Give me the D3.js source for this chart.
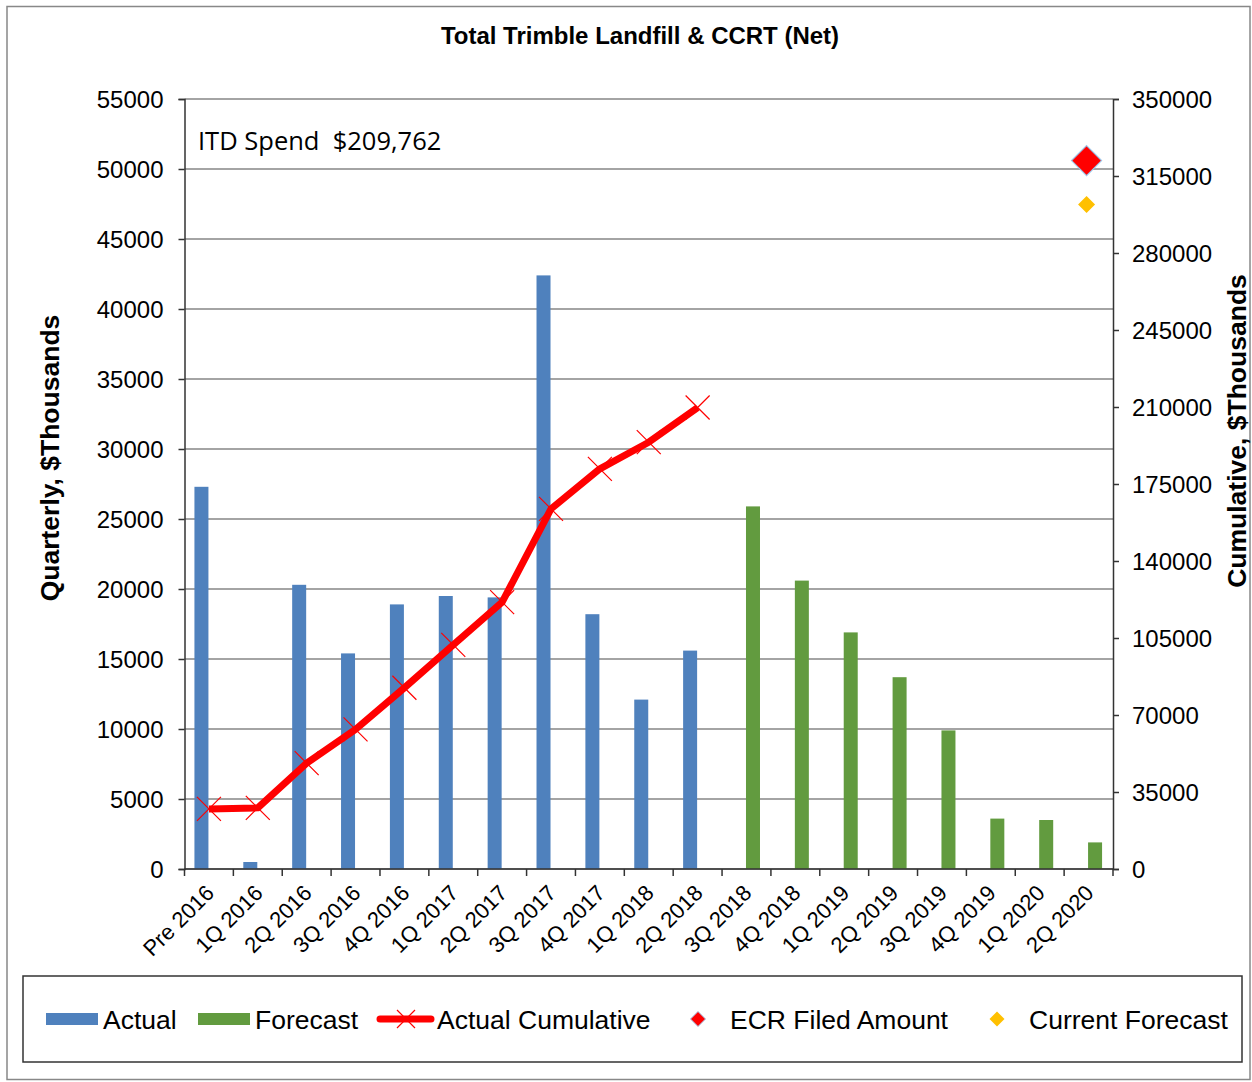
<!DOCTYPE html>
<html>
<head>
<meta charset="utf-8">
<script src="https://cdn.jsdelivr.net/npm/d3@7"></script>
<style>
  body { margin: 0; background: #fff; }
  text { font-family: "Liberation Sans", Arial, sans-serif; fill: #000; }
</style>
</head>
<body>
<div class="chart_wrapper"></div>
<script>
var categories = ['Pre 2016', '1Q 2016', '2Q 2016', '3Q 2016', '4Q 2016', '1Q 2017', '2Q 2017', '3Q 2017', '4Q 2017',
  '1Q 2018', '2Q 2018', '3Q 2018', '4Q 2018', '1Q 2019', '2Q 2019', '3Q 2019', '4Q 2019', '1Q 2020', '2Q 2020'];
var actual = [27300, 500, 20300, 15400, 18900, 19500, 19400, 42400, 18200, 12100, 15600,
  null, null, null, null, null, null, null, null];
var forecast = [null, null, null, null, null, null, null, null, null, null, null,
  25900, 20600, 16900, 13700, 9900, 3600, 3500, 1900];
var actualCumulative = [27300, 27800, 48100, 63500, 82400, 101900, 121300, 163700, 181900, 194000, 209762];
var ecrFiled = { category: '2Q 2020', value: 322000 };
var currentForecast = { category: '2Q 2020', value: 302000 };
var leftTicks = d3.range(0, 55001, 5000);
var rightTicks = d3.range(0, 350001, 35000);
var itdSpend = 'ITD Spend  $209,762';

var width = 1252;
var height = 1082;
var plot = { left: 184.5, right: 1113, top: 99, bottom: 869 };

var blue = '#4f81bd';
var green = '#629b3f';
var red = '#ff0000';
var gold = '#ffc000';

var svg = d3.select('.chart_wrapper').append('svg').attr('width', width).attr('height', height);

// outer border
svg.append('rect').attr('x', 7).attr('y', 6.5).attr('width', 1243).attr('height', 1073)
  .attr('fill', 'none').attr('stroke', '#888').attr('stroke-width', 1.5);

svg.append('text').attr('x', 640).attr('y', 44).attr('text-anchor', 'middle')
  .style('font-weight', 'bold').style('font-size', '24px').text('Total Trimble Landfill & CCRT (Net)');

var x = d3.scaleBand().domain(categories).range([plot.left, plot.right]);
var inner = d3.scaleBand().domain(['actual', 'forecast']).range([-14.5, 13.5]);
var yL = d3.scaleLinear().domain([0, 55000]).range([plot.bottom, plot.top]);
var yR = d3.scaleLinear().domain([0, 350000]).range([plot.bottom, plot.top]);
var cx = function (c) { return x(c) + x.bandwidth() / 2; };

// gridlines
svg.append('g').selectAll('line').data(leftTicks).enter().append('line')
  .attr('x1', plot.left).attr('x2', plot.right)
  .attr('y1', function (d) { return yL(d); }).attr('y2', function (d) { return yL(d); })
  .attr('stroke', '#868686').attr('stroke-width', 1.5);

// bars
var bars = svg.append('g');
bars.selectAll('.actual').data(categories.map(function (c, i) { return { c: c, v: actual[i] }; })
  .filter(function (d) { return d.v != null; }))
  .enter().append('rect').attr('class', 'actual')
  .attr('x', function (d) { return cx(d.c) + inner('actual'); })
  .attr('width', inner.bandwidth())
  .attr('y', function (d) { return yL(d.v); })
  .attr('height', function (d) { return yL(0) - yL(d.v); })
  .attr('fill', blue);
bars.selectAll('.forecast').data(categories.map(function (c, i) { return { c: c, v: forecast[i] }; })
  .filter(function (d) { return d.v != null; }))
  .enter().append('rect').attr('class', 'forecast')
  .attr('x', function (d) { return cx(d.c) + inner('forecast'); })
  .attr('width', inner.bandwidth())
  .attr('y', function (d) { return yL(d.v); })
  .attr('height', function (d) { return yL(0) - yL(d.v); })
  .attr('fill', green);

// axes
var leftAxis = svg.append('g').attr('transform', 'translate(' + plot.left + ',0)')
  .call(d3.axisLeft(yL).tickValues(leftTicks).tickSize(6).tickFormat(d3.format('d')));
var rightAxis = svg.append('g').attr('transform', 'translate(' + plot.right + ',0)')
  .call(d3.axisRight(yR).tickValues(rightTicks).tickSize(6).tickFormat(d3.format('d')));
[leftAxis, rightAxis].forEach(function (a) {
  a.select('.domain').attr('stroke', '#333').attr('stroke-width', 1.5);
  a.selectAll('.tick line').attr('stroke', '#333').attr('stroke-width', 1.5);
  a.selectAll('.tick text').style('font-size', '24px').attr('font-family', null);
});
leftAxis.selectAll('.tick text').attr('x', -21).attr('dy', '0.35em');
rightAxis.selectAll('.tick text').attr('x', 19).attr('dy', '0.35em');

var xAxis = svg.append('g').attr('transform', 'translate(0,' + plot.bottom + ')');
xAxis.append('line').attr('x1', plot.left).attr('x2', plot.right).attr('stroke', '#333').attr('stroke-width', 1.5);
xAxis.selectAll('.xt').data(categories.concat(['end'])).enter().append('line')
  .attr('x1', function (d, i) { return plot.left + i * x.bandwidth(); })
  .attr('x2', function (d, i) { return plot.left + i * x.bandwidth(); })
  .attr('y1', 0).attr('y2', 7).attr('stroke', '#333').attr('stroke-width', 1.5);
xAxis.selectAll('text').data(categories).enter().append('text')
  .attr('transform', function (d) { return 'translate(' + (cx(d) + 1) + ',20) rotate(-45)'; })
  .attr('text-anchor', 'end').attr('dy', '0.35em')
  .style('font-size', '22px').text(function (d) { return d; });

// axis titles
svg.append('text').attr('transform', 'translate(59,458) rotate(-90)').attr('text-anchor', 'middle')
  .style('font-weight', 'bold').style('font-size', '26.5px').text('Quarterly, $Thousands');
svg.append('text').attr('transform', 'translate(1246,431) rotate(-90)').attr('text-anchor', 'middle')
  .style('font-weight', 'bold').style('font-size', '26.5px').text('Cumulative, $Thousands');

// ITD text
svg.append('text').attr('x', 198).attr('y', 150).attr('xml:space', 'preserve')
  .style('font-family', '"Open Sans", "Noto Sans", sans-serif').style('font-size', '25.5px')
  .style('white-space', 'pre').text(itdSpend);

// cumulative line
var cumData = actualCumulative.map(function (v, i) { return { c: categories[i], v: v }; });
var line = d3.line().x(function (d) { return cx(d.c); }).y(function (d) { return yR(d.v); });
svg.append('path').datum(cumData).attr('d', line).attr('fill', 'none')
  .attr('stroke', red).attr('stroke-width', 7).attr('stroke-linejoin', 'round');
var xs = 12;
svg.append('g').selectAll('path').data(cumData).enter().append('path')
  .attr('d', function (d) {
    var px = cx(d.c), py = yR(d.v);
    return 'M' + (px - xs) + ',' + (py - xs) + 'L' + (px + xs) + ',' + (py + xs) +
      'M' + (px - xs) + ',' + (py + xs) + 'L' + (px + xs) + ',' + (py - xs);
  })
  .attr('stroke', red).attr('stroke-width', 1.2).attr('fill', 'none');

// diamonds
var diamond = function (px, py, r) {
  return 'M' + px + ',' + (py - r) + 'L' + (px + r) + ',' + py + 'L' + px + ',' + (py + r) + 'L' + (px - r) + ',' + py + 'Z';
};
svg.append('path').attr('d', diamond(cx(ecrFiled.category) - 2, yR(ecrFiled.value), 15))
  .attr('fill', red).attr('stroke', '#9dc3e6').attr('stroke-width', 1.2);
svg.append('path').attr('d', diamond(cx(currentForecast.category) - 2, yR(currentForecast.value), 8.5))
  .attr('fill', gold);

// legend
var lg = svg.append('g');
lg.append('rect').attr('x', 23).attr('y', 976).attr('width', 1219).attr('height', 86)
  .attr('fill', 'none').attr('stroke', '#333').attr('stroke-width', 1.5);
var ly = 1019;
lg.append('rect').attr('x', 46).attr('y', ly - 6).attr('width', 52).attr('height', 12).attr('fill', blue);
lg.append('rect').attr('x', 198).attr('y', ly - 6).attr('width', 52).attr('height', 12).attr('fill', green);
lg.append('line').attr('x1', 380).attr('x2', 431).attr('y1', ly).attr('y2', ly)
  .attr('stroke', red).attr('stroke-width', 7).attr('stroke-linecap', 'round');
lg.append('path').attr('d', 'M397,' + (ly - 9) + 'L415,' + (ly + 9) + 'M397,' + (ly + 9) + 'L415,' + (ly - 9))
  .attr('stroke', red).attr('stroke-width', 1.2);
lg.append('path').attr('d', diamond(698, ly, 7.5)).attr('fill', red).attr('stroke', '#9dc3e6').attr('stroke-width', 1);
lg.append('path').attr('d', diamond(997, ly, 7.5)).attr('fill', gold);
var legendText = [
  { x: 103, t: 'Actual' }, { x: 255, t: 'Forecast' }, { x: 437, t: 'Actual Cumulative' },
  { x: 730, t: 'ECR Filed Amount' }, { x: 1029, t: 'Current Forecast' }
];
lg.selectAll('text').data(legendText).enter().append('text')
  .attr('x', function (d) { return d.x; }).attr('y', ly + 10)
  .style('font-size', '26.5px').text(function (d) { return d.t; });
</script>
</body>
</html>
